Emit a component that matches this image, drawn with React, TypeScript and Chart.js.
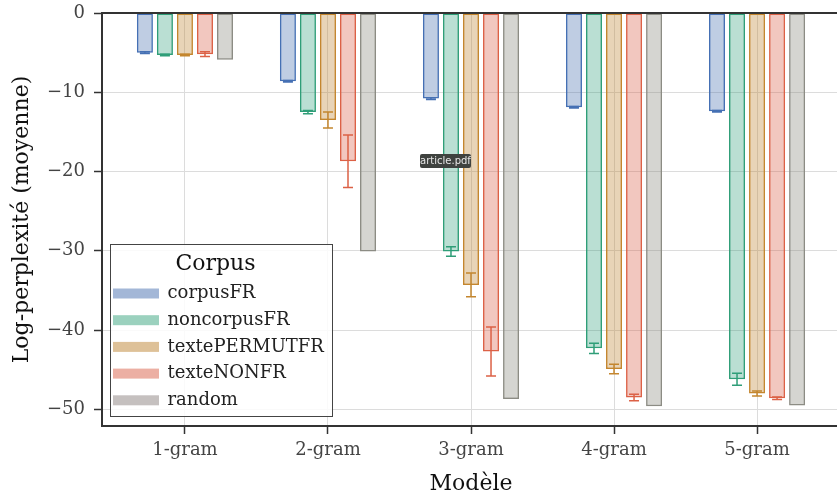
import React, { useEffect, useRef } from 'react';
import { Chart, registerables } from 'chart.js';

Chart.register(...registerables);

// ---------------- data ----------------
const categories = ['1-gram', '2-gram', '3-gram', '4-gram', '5-gram'];
const seriesNames = ['corpusFR', 'noncorpusFR', 'textePERMUTFR', 'texteNONFR', 'random'];

const corpusFR = [-5.0, -8.6, -10.8, -11.9, -12.4];
const noncorpusFR = [-5.3, -12.5, -30.1, -42.3, -46.2];
const textePERMUTFR = [-5.3, -13.5, -34.3, -44.9, -48.0];
const texteNONFR = [-5.2, -18.7, -42.7, -48.5, -48.6];
const random = [-5.9, -30.1, -48.7, -49.6, -49.5];

const corpusFRErr = [0.1, 0.1, 0.1, 0.1, 0.1];
const noncorpusFRErr = [0.1, 0.2, 0.6, 0.65, 0.75];
const textePERMUTFRErr = [0.1, 1.0, 1.5, 0.6, 0.3];
const texteNONFRErr = [0.3, 3.3, 3.1, 0.4, 0.15];
const randomErr = [0, 0, 0, 0, 0];

const yTicks = [0, -10, -20, -30, -40, -50];
const xTicks = [0, 1, 2, 3, 4];

const seriesValues = [corpusFR, noncorpusFR, textePERMUTFR, texteNONFR, random];
const seriesErrors = [corpusFRErr, noncorpusFRErr, textePERMUTFRErr, texteNONFRErr, randomErr];

// ---------------- styles ----------------
const edgeColors = ['#4570b4', '#2f9e78', '#c4862e', '#dc6146', '#8c8c84'];
const fillColors = [
  'rgba(72,112,176,0.35)',
  'rgba(47,158,120,0.33)',
  'rgba(190,132,50,0.35)',
  'rgba(218,95,72,0.35)',
  'rgba(135,135,122,0.35)',
];
const legendColors = [
  'rgba(72,112,176,0.5)',
  'rgba(47,158,120,0.48)',
  'rgba(190,132,50,0.5)',
  'rgba(218,95,72,0.5)',
  'rgba(140,130,128,0.5)',
];

const SERIF = '"DejaVu Serif", serif';

const errorBarPlugin = {
  id: 'errorBars',
  afterDatasetsDraw(chart: any) {
    const ctx = chart.ctx;
    const yScale = chart.scales.y;
    chart.data.datasets.forEach((ds: any, i: number) => {
      const meta = chart.getDatasetMeta(i);
      const errs = seriesErrors[i];
      meta.data.forEach((bar: any, j: number) => {
        const e = errs[j];
        if (!e) return;
        const v = seriesValues[i][j];
        const yTop = yScale.getPixelForValue(v + e);
        const yBot = yScale.getPixelForValue(v - e);
        const x = bar.x;
        ctx.save();
        ctx.strokeStyle = edgeColors[i];
        ctx.lineWidth = 1.5;
        ctx.beginPath();
        ctx.moveTo(x, yTop);
        ctx.lineTo(x, yBot);
        ctx.moveTo(x - 5, yTop);
        ctx.lineTo(x + 5, yTop);
        ctx.moveTo(x - 5, yBot);
        ctx.lineTo(x + 5, yBot);
        ctx.stroke();
        ctx.restore();
      });
    });
    // top spine
    const a = chart.chartArea;
    ctx.save();
    ctx.strokeStyle = '#333';
    ctx.lineWidth = 2;
    ctx.beginPath();
    ctx.moveTo(a.left - 1, a.top);
    ctx.lineTo(a.right, a.top);
    ctx.stroke();
    ctx.restore();
  },
};

const legendPlugin = {
  id: 'boxLegend',
  afterDraw(chart: any) {
    const ctx = chart.ctx;
    const a = chart.chartArea;
    const left = a.left + 8.5;
    const right = a.left + 230.5;
    const top = a.bottom - 181.5;
    const bottom = a.bottom - 9.5;
    ctx.save();
    ctx.fillStyle = 'rgba(255,255,255,0.85)';
    ctx.fillRect(left, top, right - left, bottom - top);
    ctx.strokeStyle = '#444';
    ctx.lineWidth = 1;
    ctx.strokeRect(left, top, right - left, bottom - top);
    ctx.fillStyle = '#111';
    ctx.font = `22px ${SERIF}`;
    ctx.textAlign = 'center';
    ctx.textBaseline = 'middle';
    ctx.fillText('Corpus', (left + right) / 2 - 6, top + 20);
    ctx.font = `18px ${SERIF}`;
    ctx.textAlign = 'left';
    chart.data.datasets.forEach((ds: any, i: number) => {
      const cy = top + 49 + i * 26.7;
      ctx.fillStyle = legendColors[i];
      ctx.fillRect(left + 2.5, cy - 5, 46, 10);
      ctx.fillStyle = '#222';
      ctx.fillText(ds.label, left + 57, cy);
    });
    ctx.restore();
  },
};

function BarChart() {
  const ref = useRef<HTMLCanvasElement | null>(null);
  useEffect(() => {
    if (!ref.current) return;
    const datasets = seriesNames.map((name, i) => ({
      label: name,
      data: seriesValues[i].map((v, j) => ({ x: j, y: v })),
      backgroundColor: fillColors[i],
      borderColor: edgeColors[i],
      borderWidth: 1.5,
      borderSkipped: false,
      categoryPercentage: 0.7,
      barPercentage: 0.8,
    }));
    const chart = new Chart(ref.current, {
      type: 'bar',
      data: { datasets },
      options: {
        animation: false,
        responsive: false,
        maintainAspectRatio: false,
        layout: { padding: { top: 13, right: 2, left: 0, bottom: 0 } },
        plugins: { legend: { display: false }, tooltip: { enabled: false } },
        scales: {
          x: {
            type: 'linear',
            min: -0.58,
            max: 4.58,
            offset: false,
            afterBuildTicks: (s: any) => {
              s.ticks = xTicks.map((v) => ({ value: v }));
            },
            afterFit: (s: any) => {
              s.height = 69;
              s.paddingLeft = 0;
              s.paddingRight = 0;
            },
            ticks: {
              callback: (v: any) => categories[v as number] ?? '',
              color: '#444',
              font: { family: SERIF, size: 18 },
              padding: 6,
              maxRotation: 0,
              autoSkip: false,
            },
            grid: {
              color: '#dcdcdc',
              lineWidth: 1,
              tickColor: '#333',
              tickLength: 8,
              tickWidth: 1.5,
              offset: false,
            },
            border: { color: '#333', width: 2 },
            title: {
              display: true,
              text: 'Modèle',
              color: '#111',
              font: { family: SERIF, size: 22, lineHeight: 1.0 },
              padding: { top: 0, bottom: 0 },
            },
          },
          y: {
            type: 'linear',
            min: -52.1,
            max: 0,
            afterBuildTicks: (s: any) => {
              s.ticks = yTicks.map((v) => ({ value: v }));
            },
            afterFit: (s: any) => {
              s.width = 102;
              s.paddingTop = 0;
              s.paddingBottom = 0;
            },
            ticks: {
              callback: (v: any) => (v === 0 ? '0' : '\u2212' + Math.abs(v as number)),
              color: '#444',
              font: { family: SERIF, size: 18 },
              padding: 9,
            },
            grid: {
              color: '#dcdcdc',
              lineWidth: 1,
              tickColor: '#333',
              tickLength: 8,
              tickWidth: 1.5,
            },
            border: { color: '#333', width: 2 },
            title: {
              display: true,
              text: 'Log-perplexité (moyenne)',
              color: '#111',
              font: { family: SERIF, size: 22, lineHeight: 1.2 },
              padding: { top: 9, bottom: 0 },
            },
          },
        },
      },
      plugins: [errorBarPlugin, legendPlugin],
    } as any);
    return () => chart.destroy();
  }, []);
  return <canvas ref={ref} width={842} height={495} style={{ display: 'block', width: 842, height: 495 }} />;
}

export default function App() {
  return (
    <div
      style={{
        position: 'fixed',
        left: 0,
        top: 0,
        width: 837,
        height: 495,
        overflow: 'hidden',
        background: '#fff',
      }}
    >
      <BarChart />
      <div
        style={{
          position: 'absolute',
          left: 420,
          top: 154,
          width: 51,
          height: 14,
          background: '#3f423f',
          color: '#e6e6e6',
          font: '10px "DejaVu Sans", sans-serif',
          lineHeight: '14px',
          textAlign: 'center',
          borderRadius: 2,
        }}
      >
        article.pdf
      </div>
    </div>
  );
}
